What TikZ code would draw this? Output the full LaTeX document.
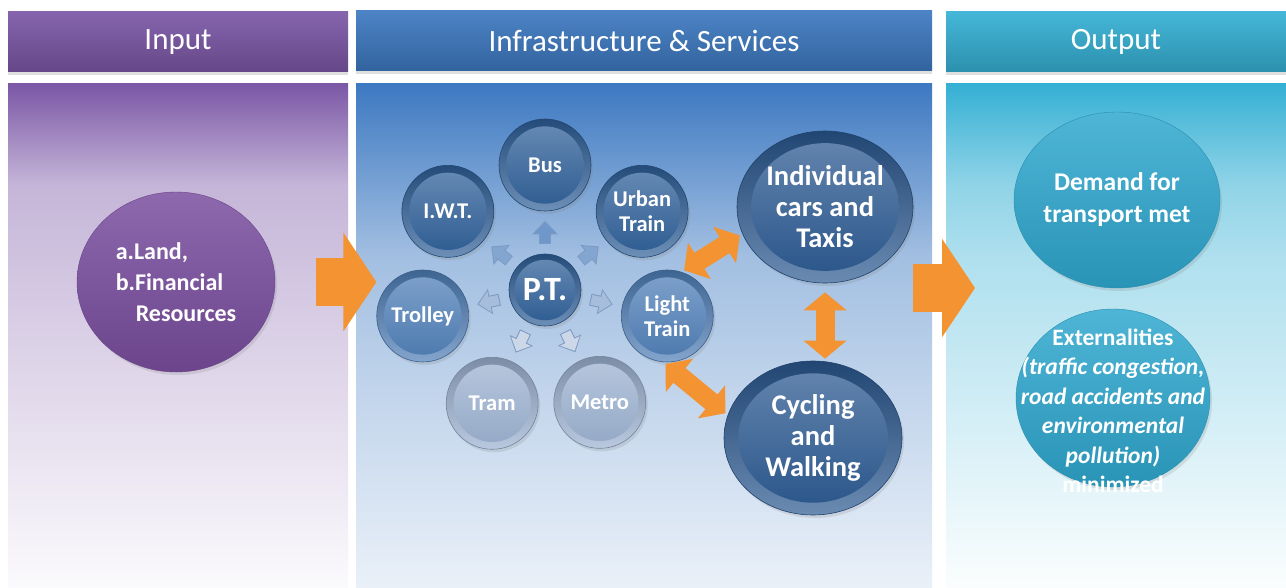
\documentclass[tikz,border=0pt]{standalone}
\usepackage{fontspec}
\setmainfont{Carlito}
\usetikzlibrary{calc}
\usetikzlibrary{arrows.meta}
\usetikzlibrary{shapes.geometric}
\usetikzlibrary{shadows}

\definecolor{inpurple}{HTML}{7B57A6}
\definecolor{infrablue}{HTML}{3D79C1}
\definecolor{outcyan}{HTML}{35B0D4}
\definecolor{ballpurple}{HTML}{7A4E9F}
\definecolor{balldark}{HTML}{2E5F98}
\definecolor{ballmid}{HTML}{4E7EB7}
\definecolor{balllight}{HTML}{9BB1D0}
\definecolor{ballbig}{HTML}{2A5890}
\definecolor{ballcyan}{HTML}{2FA8CF}
\definecolor{arrorange}{HTML}{F39332}
\definecolor{ptup}{HTML}{6F97CA}
\definecolor{ptmid}{HTML}{83A6D0}
\definecolor{ptside}{HTML}{A6BEDB}
\definecolor{ptlow}{HTML}{CCD8E8}
\definecolor{ptrim}{HTML}{7D9AC2}

% panel fades, path box = 25bp..75bp
\pgfdeclareverticalshading{inshade}{100bp}{color(0bp)=(white!97!inpurple); color(25bp)=(white!97!inpurple);
	color(50bp)=(white!72!inpurple); color(65bp)=(white!56!inpurple); color(75bp)=(inpurple); color(100bp)=(inpurple)}
\pgfdeclareverticalshading{infrashade}{100bp}{color(0bp)=(white!89!infrablue); color(25bp)=(white!89!infrablue);
	color(43bp)=(white!70!infrablue); color(58bp)=(white!52!infrablue); color(75bp)=(infrablue); color(100bp)=(infrablue)}
\pgfdeclareverticalshading{outshade}{100bp}{color(0bp)=(white!98!outcyan); color(25bp)=(white!98!outcyan);
	color(58bp)=(white!60!outcyan); color(65bp)=(white!45!outcyan); color(75bp)=(outcyan); color(100bp)=(outcyan)}

\tikzset{
	head/.style={rectangle, minimum height=60, inner sep=0, text=white,
		font=\fontsize{31}{34}\selectfont, top color=#1!92!white, bottom color=#1!82!black,
		drop shadow={opacity=0.25, shadow xshift=0pt, shadow yshift=-3pt}},
	panel/.style={rectangle, inner sep=0, minimum height=504, shading=#1},
	gloss/.style={draw=#1!75!black, line width=0.6pt, top color=#1!80!black, bottom color=#1!70!white,
		text=white, font=\bfseries, align=center, inner sep=0,
		drop shadow={opacity=0.2, shadow xshift=2pt, shadow yshift=-3pt},
		path picture={\shade[top color=#1!72!white, bottom color=#1!95!black]
			let \p1=(path picture bounding box.north east), \p2=(path picture bounding box.center)
			in (\p2) ellipse ({0.84*(\x1-\x2)} and {0.84*(\y1-\y2)});}},
	plainball/.style={ellipse, top color=#1!85!white, bottom color=#1!88!black, draw=#1!85!black,
		line width=0.4pt, text=white, align=center, inner sep=0,
		drop shadow={opacity=0.2, shadow xshift=2pt, shadow yshift=-3pt}},
	bubble/.style={gloss=#1, circle, minimum size=92, font=\bfseries\fontsize{22.5}{25}\selectfont},
	outtext/.style={text=white, align=center, font=\bfseries\fontsize{25.5}{32}\selectfont},
	bigarrow/.style={draw=arrorange, line width=48pt, -{Triangle[length=33pt, width=97pt]}},
	dblarrow/.style={draw=arrorange, line width=19pt,
		{Triangle[length=18pt, width=42pt]}-{Triangle[length=18pt, width=42pt]}},
	ptarrow/.style={draw=#1, line width=10pt, -{Triangle[length=11pt, width=21pt]},
		shorten <=11pt, shorten >=11pt,
		preaction={draw=ptrim, line width=12pt, -{Triangle[length=13.5pt, width=25pt]},
			shorten <=10pt, shorten >=9.5pt}}
}

\begin{document}
\begin{tikzpicture}[x=1pt,y=1pt]
	\useasboundingbox[fill=white] (0,0) rectangle (1286,-588);
	% columns
	\node[panel=inshade, minimum width=340] (inbody) at (178,-336) {};
	\node[panel=infrashade, minimum width=576] (infrabody) at (644,-336) {};
	\node[panel=outshade, minimum width=340] (outbody) at (1116,-336) {};
	\node[head=inpurple, minimum width=340] (inhead) at (178,-42) {Input};
	\node[head=infrablue, minimum width=576] (infrahead) at (644,-41) {Infrastructure \& Services};
	\node[head=outcyan, minimum width=340] (outhead) at (1116,-42) {Output};
	% input
	\node[plainball=ballpurple, minimum width=198, minimum height=180,
		font=\bfseries\fontsize{24}{31}\selectfont, align=left] (landres) at (176,-282)
		{a.Land,\\b.Financial\\\hspace{20pt}Resources};
	% public transport
	\node[gloss=balldark, circle, minimum size=72, font=\bfseries\fontsize{34}{36}\selectfont] (pt) at (545,-290) {P.T.};
	\foreach \name/\ang/\col/\txt in {bus/90/balldark/Bus, iwt/141/balldark/I.W.T., urban/39/balldark/{Urban\\Train},
		trolley/192/ballmid/Trolley, light/348/ballmid/{Light\\Train}, tram/245/balllight/Tram, metro/296/balllight/Metro}
		\node[bubble=\col] (\name) at ($(pt)+(\ang:125)$) {\txt};
	\foreach \name/\col in {bus/ptup, iwt/ptmid, urban/ptmid, trolley/ptside, light/ptside, tram/ptlow, metro/ptlow}
		\draw[ptarrow=\col] (pt) -- (\name);
	\node[gloss=ballbig, ellipse, minimum width=176, minimum height=152,
		font=\bfseries\fontsize{28.5}{31}\selectfont] (indiv) at (825,-207) {Individual\\cars and\\Taxis};
	\node[gloss=ballbig, ellipse, minimum width=178, minimum height=154,
		font=\bfseries\fontsize{28.5}{31}\selectfont] (cycling) at (813,-438) {Cycling\\and\\Walking};
	% output
	\node[plainball=ballcyan, minimum width=206, minimum height=176,
		label={[outtext]center:{Demand for\\transport met}}] (demand) at (1117,-200) {};
	\node[plainball=ballcyan, minimum width=194, minimum height=178,
		label={[outtext, font=\bfseries\fontsize{23.5}{29.5}\selectfont, yshift=-13pt]center:{Externalities\\\itshape(traffic congestion,\\\itshape road accidents and\\\itshape environmental\\\itshape pollution)\\minimized}}] (extern) at (1113,-398) {};
	% flows
	\coordinate (outtip) at (975,-288);
	\draw[bigarrow, shorten <=41pt] (landres.east) -- (landres.east -| trolley.west);
	\draw[bigarrow] (indiv.east |- outtip) -- (outtip);
	\draw[dblarrow, shorten <=3pt, shorten >=3pt] (light.72) -- (indiv.198);
	\draw[dblarrow, shorten <=9pt, shorten >=2pt] (indiv.south) -- (indiv.south |- cycling.north);
	\draw[dblarrow, shorten <=3pt, shorten >=3pt] (light.265) -- (cycling.165);
\end{tikzpicture}
\end{document}
